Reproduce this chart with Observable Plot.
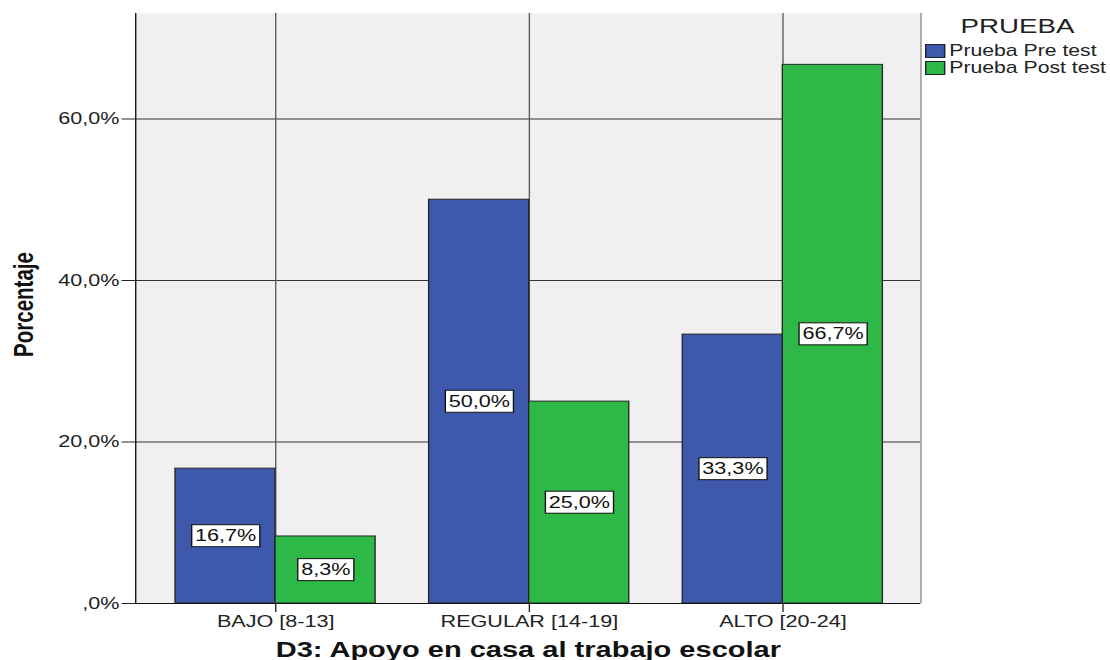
<!DOCTYPE html>
<html><head><meta charset="utf-8">
<script src="https://cdn.jsdelivr.net/npm/d3@7"></script>
<script src="https://cdn.jsdelivr.net/npm/@observablehq/plot@0.6"></script>
<style>
html,body{margin:0;padding:0;background:#fff;overflow:hidden}
#wrap{position:relative;width:822px;height:660px;transform:scaleX(1.3504);transform-origin:0 0;font-family:"Liberation Sans",Arial,sans-serif}
#legend{position:absolute;left:685px;top:14px;width:137px;color:#222}
#legend .ttl{font-size:20.5px;line-height:24px;text-align:center;margin-bottom:4px}
#legend .row{display:flex;align-items:center;height:17px;font-size:15.7px;line-height:17px}
#legend .sw{width:13px;height:12px;border:1px solid #222;margin-right:3px;flex:none}
</style></head><body>
<div id="wrap"><div id="legend"></div></div>
<script>
const categories = ["BAJO [8-13]", "REGULAR [14-19]", "ALTO [20-24]"];
const series = ["Prueba Pre test", "Prueba Post test"];
const preTest = [16.7, 50.0, 33.3];
const postTest = [8.3, 25.0, 66.7];
const yTicks = [0, 20, 40, 60];
const colors = ["#3E58AC", "#2EB848"];
const legendTitle = "PRUEBA";
const xTitle = "D3: Apoyo en casa al trabajo escolar";
const yTitle = "Porcentaje";

const barWidth = 0.3945;            // fraction of category step
const xDomain = [-0.552, 2.544];
const yDomain = [0, 73.06];

const rows = categories.flatMap((c, i) => [
  {cat: c, i, serie: series[0], value: preTest[i], x1: i - barWidth, x2: i},
  {cat: c, i, serie: series[1], value: postTest[i], x1: i, x2: i + barWidth}
]);
const fmt = v => v.toFixed(1).replace(".", ",") + "%";
const fmtTick = v => v === 0 ? ",0%" : v.toFixed(1).replace(".", ",") + "%";

const chart = Plot.plot({
  width: 822, height: 660,
  marginLeft: 100, marginRight: 140.5, marginTop: 13, marginBottom: 57,
  style: {fontFamily: '"Liberation Sans", Arial, sans-serif', fontSize: "16px", color: "#222", background: "transparent"},
  x: {type: "linear", domain: xDomain},
  y: {domain: yDomain},
  color: {domain: series, range: colors},
  marks: [
    Plot.frame({fill: "#f0f0f0", stroke: null}),
    Plot.ruleY(yTicks.filter(d => d > 0), {stroke: "#333", strokeWidth: 1}),
    Plot.ruleX(categories.map((c, i) => i), {stroke: "#5a5a5a", strokeWidth: 1}),
    Plot.rectY(rows, {x1: "x1", x2: "x2", y1: 0, y2: "value", fill: "serie", stroke: "#262626", strokeWidth: 1}),
    Plot.ruleX([xDomain[1]], {stroke: "#8a8a8a"}),
    Plot.ruleX([xDomain[0]], {stroke: "#111"}),
    Plot.ruleY([0], {stroke: "#111"}),
    Plot.axisY({ticks: yTicks, tickFormat: fmtTick, tickSize: 10, tickPadding: 2, label: null, stroke: "#222"}),
    Plot.axisX({ticks: categories.map((c, i) => i), tickFormat: i => categories[i], tickSize: 9, tickPadding: 3, label: null, stroke: "#222"}),
    Plot.text(rows, {x: d => (d.x1 + d.x2) / 2, y: d => d.value / 2, text: d => fmt(d.value), fontSize: 16, fill: "#111", ariaLabel: d => "valor " + fmt(d.value)}),
    Plot.text([xTitle], {frameAnchor: "bottom", dy: 53.5, lineAnchor: "bottom", fontSize: 21.5, fontWeight: "bold", fill: "#111"}),
    Plot.text([yTitle], {frameAnchor: "left", textAnchor: "middle", dx: -82.7, dy: -4, rotate: -90, fontSize: 20.5, fontWeight: "bold", fill: "#111"})
  ]
});
const wrap = document.getElementById("wrap");
wrap.insertBefore(chart, wrap.firstChild);

// white boxes behind the value labels
let labels = Array.from(chart.querySelectorAll('text')).filter(t => (t.getAttribute("aria-label") || "").startsWith("valor "));
if (!labels.length) {
  const g = chart.querySelector('g[aria-label="text"]');
  labels = g ? Array.from(g.querySelectorAll("text")) : [];
}
labels.forEach(t => {
  const b = t.getBBox();
  const r = document.createElementNS("http://www.w3.org/2000/svg", "rect");
  r.setAttribute("x", b.x - 2.5); r.setAttribute("y", b.y + b.height / 2 - 11);
  r.setAttribute("width", b.width + 5); r.setAttribute("height", 22);
  r.setAttribute("fill", "#fff"); r.setAttribute("stroke", "#111"); r.setAttribute("stroke-width", 1);
  if (t.getAttribute("transform")) r.setAttribute("transform", t.getAttribute("transform"));
  t.parentNode.insertBefore(r, t);
});

// legend
const lg = d3.select("#legend");
lg.append("div").attr("class", "ttl").text(legendTitle);
series.forEach((s, k) => {
  const row = lg.append("div").attr("class", "row");
  row.append("div").attr("class", "sw").style("background", colors[k]);
  row.append("span").text(s);
});
</script>
</body></html>
